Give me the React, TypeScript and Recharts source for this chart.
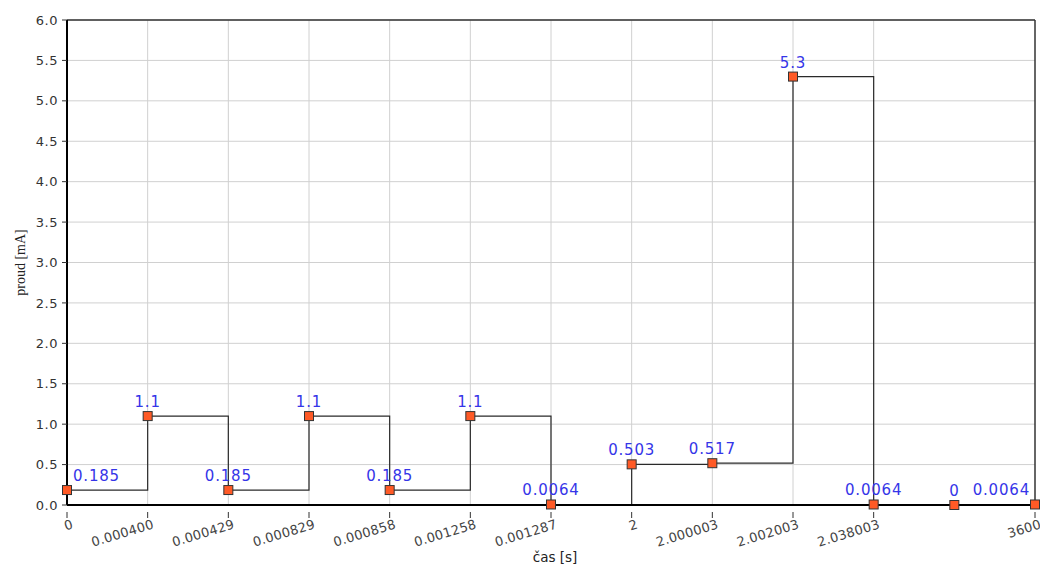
import React from 'react';
import { LineChart, Line, XAxis, YAxis, CartesianGrid, ReferenceLine, Label } from 'recharts';

const categories = ['0', '0.000400', '0.000429', '0.000829', '0.000858', '0.001258', '0.001287', '2', '2.000003', '2.002003', '2.038003', '', '3600'];
const currentValues = [0.185, 1.1, 0.185, 1.1, 0.185, 1.1, 0.0064, 0.503, 0.517, 5.3, 0.0064, 0, 0.0064];
const yTicks = [0, 0.5, 1, 1.5, 2, 2.5, 3, 3.5, 4, 4.5, 5, 5.5, 6];

const data = categories.map((c, i) => ({ t: c, proud: currentValues[i] }));

const FONT = '"DejaVu Sans", Verdana, sans-serif';

const XTick = (props: any) => {
  const { x, y, payload } = props;
  if (!payload || payload.value === '') return null;
  const ax = x + 7;
  const ay = y + 15;
  return (
    <g>
      <line x1={x} y1={y - 1} x2={x} y2={y + 5} stroke="#333" strokeWidth={1} />
      <text
        x={ax}
        y={ay}
        textAnchor="end"
        transform={`rotate(-17, ${ax}, ${ay})`}
        fontFamily={FONT}
        fontSize={13}
        letterSpacing={0.3}
        fill="#444"
      >
        {payload.value}
      </text>
    </g>
  );
};

const Dot = (props: any) => {
  const { cx, cy } = props;
  if (cx == null || cy == null) return null;
  return <rect x={cx - 4.5} y={cy - 4.5} width={9} height={9} fill="#ff5a26" stroke="#333" strokeWidth={1} />;
};

const DataLabel = (props: any) => {
  const { x, y, value, index } = props;
  let anchor: 'start' | 'middle' | 'end' = 'middle';
  let dx = 0;
  if (index === 0) {
    anchor = 'start';
    dx = 6;
  } else if (index === categories.length - 1) {
    anchor = 'end';
    dx = -5;
  }
  return (
    <text x={x + dx} y={y - 9} textAnchor={anchor} fontFamily={FONT} fontSize={15} letterSpacing={0.8} fill="#3535e8">
      {String(value)}
    </text>
  );
};

export default function App() {
  return (
    <div style={{ position: 'absolute', left: 0, top: 0, width: 1040, height: 570, background: '#fff' }}>
      <LineChart width={1040} height={570} data={data} margin={{ top: 20, right: 5, left: 0, bottom: 0 }}>
        <CartesianGrid vertical={false} stroke="#d0d0d0" strokeWidth={1} />
        {categories
          .filter((c) => c !== '')
          .slice(1, -1)
          .map((c) => (
            <ReferenceLine key={c} x={c} stroke="#d0d0d0" strokeWidth={1} />
          ))}
        <ReferenceLine y={6} stroke="#333" strokeWidth={1.5} />
        <ReferenceLine x="3600" stroke="#333" strokeWidth={1.5} />
        <XAxis
          dataKey="t"
          height={65}
          interval={0}
          tick={<XTick />}
          tickLine={false}
          axisLine={{ stroke: '#000', strokeWidth: 2 }}
        >
          <Label value="čas [s]" position="insideBottom" offset={8} dx={4} style={{ fontFamily: FONT, fontSize: 13.5, fill: '#222' }} />
        </XAxis>
        <YAxis
          width={67}
          domain={[0, 6]}
          ticks={yTicks}
          interval={0}
          tickFormatter={(v: number) => v.toFixed(1)}
          tickSize={5}
          tickMargin={4}
          tick={{ fontFamily: FONT, fontSize: 13, fill: '#333', letterSpacing: 0.5 }}
          tickLine={{ stroke: '#333' }}
          axisLine={{ stroke: '#000', strokeWidth: 2 }}
        >
          <Label
            value="proud [mA]"
            angle={-90}
            position="insideLeft"
            offset={20}
            style={{ fontFamily: '"Liberation Serif", "Times New Roman", serif', fontSize: 14, fill: '#222', textAnchor: 'middle' }}
          />
        </YAxis>
        <Line
          type="stepAfter"
          dataKey="proud"
          stroke="#2a2a2a"
          strokeWidth={1.2}
          dot={<Dot />}
          activeDot={false}
          isAnimationActive={false}
          label={<DataLabel />}
        />
      </LineChart>
    </div>
  );
}
